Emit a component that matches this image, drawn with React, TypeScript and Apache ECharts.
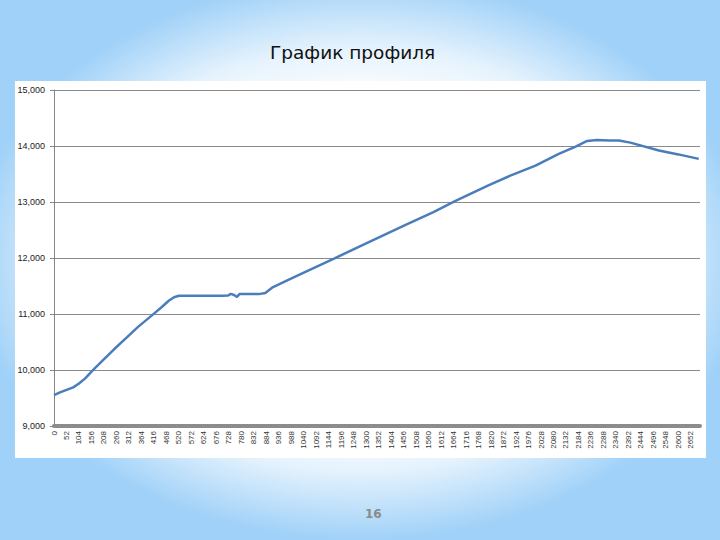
import React, { useEffect, useRef } from "react";
import * as echarts from "echarts";

const title = "График профиля";
const pageNumber = "16";

const distance = [
  0, 25, 55, 80, 104, 130, 160, 200, 250, 300, 350, 409, 450, 479, 500, 520,
  600, 700, 725, 736, 750, 762, 772, 800, 853, 880, 908, 978, 1020, 1166, 1300,
  1464, 1580, 1672, 1811, 1900, 2005, 2102, 2172, 2220, 2260, 2311, 2352, 2400,
  2519, 2600, 2685,
];
const elevation = [
  9550, 9600, 9650, 9690, 9760, 9850, 9990, 10160, 10370, 10570, 10770, 10980,
  11130, 11240, 11300, 11325, 11325, 11325, 11330, 11360, 11340, 11305, 11355,
  11355, 11355, 11375, 11470, 11615, 11700, 11990, 12260, 12590, 12820, 13020,
  13300, 13470, 13650, 13860, 13990, 14090, 14105, 14100, 14100, 14060, 13920,
  13850, 13770,
];

const yMin = 9000;
const yMax = 15000;
const yStep = 1000;
const xStep = 52;
const xMax = 2690;

export default function App() {
  const ref = useRef<HTMLDivElement>(null);

  useEffect(() => {
    document.body.style.margin = "0";
    if (!ref.current) return;
    const chart = echarts.init(ref.current, undefined, { renderer: "svg" });
    const data = distance.map((d, i) => [d, elevation[i]]);
    chart.setOption({
      animation: false,
      backgroundColor: "transparent",
      title: {
        text: title,
        left: 265,
        top: 38,
        textStyle: {
          fontFamily: "DejaVu Sans",
          fontSize: 18.5,
          fontWeight: "normal",
          color: "#111",
        },
      },
      graphic: [
        {
          type: "text",
          left: 365,
          top: 508,
          style: {
            text: pageNumber,
            fontFamily: "DejaVu Sans",
            fontSize: 12,
            fontWeight: "bold",
            fill: "#8a8a8a",
          },
        },
      ],
      grid: { left: 54, right: 20, top: 90, bottom: 114, containLabel: false },
      xAxis: {
        type: "value",
        min: 0,
        max: xMax,
        interval: xStep,
        axisLine: { show: true, lineStyle: { color: "#8c8c8c", width: 4 } },
        axisTick: { show: false },
        splitLine: { show: false },
        axisLabel: {
          rotate: 90,
          margin: 5,
          showMaxLabel: false,
          fontFamily: "Liberation Sans",
          fontSize: 8,
          color: "#333",
          formatter: (v: number) => String(v),
        },
      },
      yAxis: {
        type: "value",
        min: yMin,
        max: yMax,
        interval: yStep,
        axisLine: { show: true, lineStyle: { color: "#868686", width: 1 } },
        axisTick: { show: true, length: 4, lineStyle: { color: "#868686" } },
        splitLine: { show: true, lineStyle: { color: "#8a8a8a", width: 1 } },
        axisLabel: {
          margin: 9,
          fontFamily: "Liberation Sans",
          fontSize: 9,
          color: "#222",
          formatter: (v: number) => v.toLocaleString("en-US"),
        },
      },
      series: [
        {
          type: "line",
          data,
          showSymbol: false,
          lineStyle: { color: "#4a7ebb", width: 2.5 },
          itemStyle: { color: "#4a7ebb" },
        },
      ],
    });
    return () => chart.dispose();
  }, []);

  return (
    <div
      style={{
        position: "absolute",
        left: 0,
        top: 0,
        width: 720,
        height: 540,
        overflow: "hidden",
        background:
          "radial-gradient(ellipse 54% 52% at 50% 48%, #ffffff 0%, #ffffff 55%, #e6f3fd 75%, rgba(160,209,248,0) 100%), #a0d1f8",
      }}
    >
      <div
        style={{
          position: "absolute",
          left: 15,
          top: 81,
          width: 691,
          height: 377,
          background: "#ffffff",
        }}
      />
      <div
        ref={ref}
        style={{ position: "absolute", left: 0, top: 0, width: 720, height: 540 }}
      />
    </div>
  );
}
